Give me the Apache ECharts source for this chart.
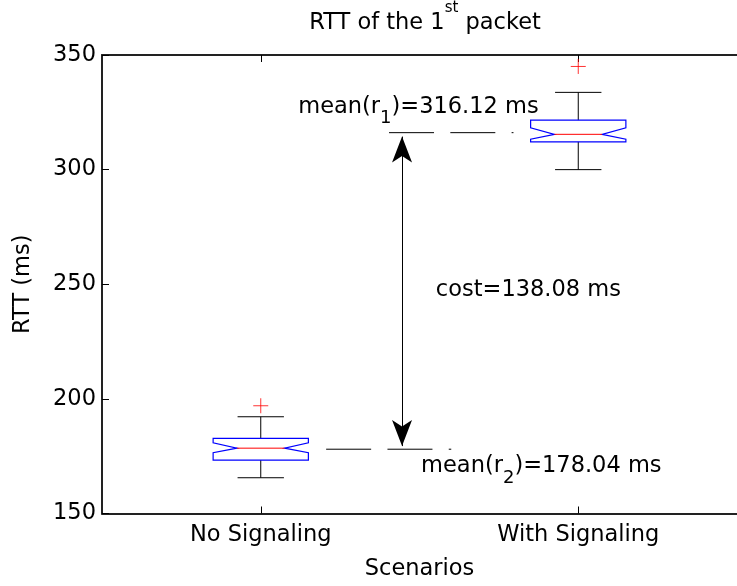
<!DOCTYPE html>
<html><head><meta charset="utf-8">
<script src="https://cdn.jsdelivr.net/npm/echarts@6/dist/echarts.min.js"></script>
<style>html,body{margin:0;padding:0;background:#fff}#c{width:737px;height:586px}</style>
</head><body><div id="c"></div>
<script>
// ---------------- data ----------------
const categories = ['No Signaling', 'With Signaling'];
const categoryPositions = [1, 2];
// [lower whisker, Q1, median, Q3, upper whisker]
const boxStats = [
  [165.6, 173.3, 178.5, 182.8, 192.2],
  [300.0, 312.1, 315.4, 321.6, 333.7]
];
// notch [low, high]
const notches = [[176.5, 180.8], [313.3, 318.2]];
// outliers [position, value]
const outliers = [[1, 197.0], [2, 345.0]];
// mean values of r1 and r2
const meanValues = [316.12, 178.04];
// x-extent of the dashed mean lines (in scenario units)
const meanLineSpans = [[1.404, 1.796], [1.206, 1.600]];
// double arrow: x position and the two end values
const arrowX = 1.445;
const arrowEnds = [179.4, 314.4];
const yTicks = [150, 200, 250, 300, 350];

// ---------------- text annotations (anchored in data coords) ----------------
const costValue = +(meanValues[0] - meanValues[1]).toFixed(2);
const annotationTexts = [
  '{m|mean(r}{s|1}{m|)=' + meanValues[0].toFixed(2) + ' ms}',
  '{m|cost=' + costValue.toFixed(2) + ' ms}',
  '{m|mean(r}{s|2}{m|)=' + meanValues[1].toFixed(2) + ' ms}'
];
const annotationAnchors = [[1.118, 327.2], [1.5515, 247.6], [1.505, 170.5]];

const FONT = 'DejaVu Sans';
const FS = 22.5;

const chart = echarts.init(document.getElementById('c'), null, {renderer: 'canvas'});

const axisLineStyle = {color: '#222', width: 2};

const option = {
  animation: false,
  backgroundColor: '#fff',
  textStyle: {fontFamily: FONT, color: '#000'},
  title: {
    text: '{a|RTT of the 1}{s|st}{a| packet}',
    left: 425, top: 1, padding: 0, textAlign: 'center',
    textStyle: {
      fontWeight: 'normal',
      rich: {
        a: {fontFamily: FONT, fontSize: FS, fontWeight: 'normal', lineHeight: 45, color: '#000'},
        s: {fontFamily: FONT, fontSize: 15, fontWeight: 'normal', lineHeight: 15, verticalAlign: 'top', color: '#000'}
      }
    }
  },
  grid: {left: 102, top: 55, width: 646, height: 463, containLabel: false},
  xAxis: [
    {
      type: 'value', min: 0.5, max: 2.5, position: 'bottom',
      name: 'Scenarios', nameLocation: 'middle', nameGap: 44.5,
      nameTextStyle: {fontFamily: FONT, fontSize: FS, color: '#000'},
      axisLine: {show: true, onZero: false, lineStyle: axisLineStyle},
      axisTick: {show: true, inside: true, length: 7, customValues: categoryPositions, lineStyle: {color: '#000', width: 1}},
      axisLabel: {show: true, margin: 10, customValues: categoryPositions, fontFamily: FONT, fontSize: FS, color: '#000',
        formatter: v => categories[categoryPositions.indexOf(v)] || ''},
      splitLine: {show: false}
    },
    {
      type: 'value', min: 0.5, max: 2.5, position: 'top',
      axisLine: {show: true, onZero: false, lineStyle: axisLineStyle},
      axisTick: {show: true, inside: true, length: 7, customValues: categoryPositions, lineStyle: {color: '#000', width: 1}},
      axisLabel: {show: false},
      splitLine: {show: false}
    }
  ],
  yAxis: {
    type: 'value', min: yTicks[0], max: yTicks[yTicks.length - 1], interval: yTicks[1] - yTicks[0],
    name: 'RTT (ms)', nameLocation: 'middle', nameGap: 67,
    nameTextStyle: {fontFamily: FONT, fontSize: FS, color: '#000'},
    axisLine: {show: true, onZero: false, lineStyle: axisLineStyle},
    axisTick: {show: true, inside: true, length: 7, lineStyle: {color: '#000', width: 1}},
    axisLabel: {margin: 6, fontFamily: FONT, fontSize: FS, color: '#000'},
    splitLine: {show: false}
  },
  series: [
    {
      type: 'custom', name: 'boxes', clip: false,
      data: categoryPositions.map((x, i) => [x].concat(boxStats[i], notches[i])),
      encode: {x: 0, y: [1, 2, 3, 4, 5]},
      renderItem: function (params, api) {
        const x = api.value(0);
        const lo = api.value(1), q1 = api.value(2), med = api.value(3), q3 = api.value(4), hi = api.value(5);
        const nLo = api.value(6), nHi = api.value(7);
        const BW = 0.15, NW = 0.075, CW = 0.073;
        const c = (dx, v) => api.coord([x + dx, v]);
        const pts = [c(-BW, q3), c(BW, q3), c(BW, nHi), c(NW, med), c(BW, nLo), c(BW, q1),
                     c(-BW, q1), c(-BW, nLo), c(-NW, med), c(-BW, nHi)];
        const ln = (a, b, color) => ({type: 'line', shape: {x1: a[0], y1: a[1], x2: b[0], y2: b[1]},
                                       style: {stroke: color, lineWidth: 1}});
        return {
          type: 'group',
          children: [
            ln(c(0, q3), c(0, hi), '#000'),
            ln(c(0, q1), c(0, lo), '#000'),
            ln(c(-CW, hi), c(CW, hi), '#000'),
            ln(c(-CW, lo), c(CW, lo), '#000'),
            {type: 'polygon', shape: {points: pts}, style: {fill: 'none', stroke: '#0000ff', lineWidth: 1.2}},
            ln(c(-NW, med), c(NW, med), '#ff0000')
          ]
        };
      }
    },
    {
      type: 'scatter', name: 'outliers',
      data: outliers,
      symbol: 'path://M0,-1L0,1M-1,0L1,0',
      symbolSize: 15,
      itemStyle: {color: 'rgba(0,0,0,0)', borderColor: '#ff0000', borderWidth: 1},
      silent: true
    },
    {
      type: 'line', name: 'mean r1', symbol: 'none', silent: true,
      data: [[meanLineSpans[0][0], meanValues[0]], [meanLineSpans[0][1], meanValues[0]]],
      lineStyle: {color: '#000', width: 1, type: [45, 16.3]}
    },
    {
      type: 'line', name: 'mean r2', symbol: 'none', silent: true,
      data: [[meanLineSpans[1][0], meanValues[1]], [meanLineSpans[1][1], meanValues[1]]],
      lineStyle: {color: '#000', width: 1, type: [45, 16.3]},
      markLine: {
        silent: true, animation: false,
        symbol: ['arrow', 'arrow'], symbolSize: [15, 26],
        lineStyle: {color: '#000', width: 1, type: 'solid'},
        itemStyle: {color: '#000'},
        label: {show: false},
        emphasis: {disabled: true},
        data: [[{coord: [arrowX, arrowEnds[0]]}, {coord: [arrowX, arrowEnds[1]]}]]
      }
    },
    {
      type: 'custom', name: 'annotations', clip: false, silent: true,
      data: annotationAnchors,
      encode: {x: 0, y: 1},
      renderItem: function (params, api) {
        const p = api.coord([api.value(0), api.value(1)]);
        return {
          type: 'text', x: p[0], y: p[1],
          style: {
            text: annotationTexts[params.dataIndex],
            align: 'left', verticalAlign: 'middle',
            fontFamily: FONT, fontSize: FS, fill: '#000',
            rich: {
              m: {fontFamily: FONT, fontSize: FS, lineHeight: 41, fill: '#000'},
              s: {fontFamily: FONT, fontSize: 18, lineHeight: 18, verticalAlign: 'bottom', fill: '#000'}
            }
          }
        };
      }
    }
  ]
};
chart.setOption(option);
</script>
</body></html>
